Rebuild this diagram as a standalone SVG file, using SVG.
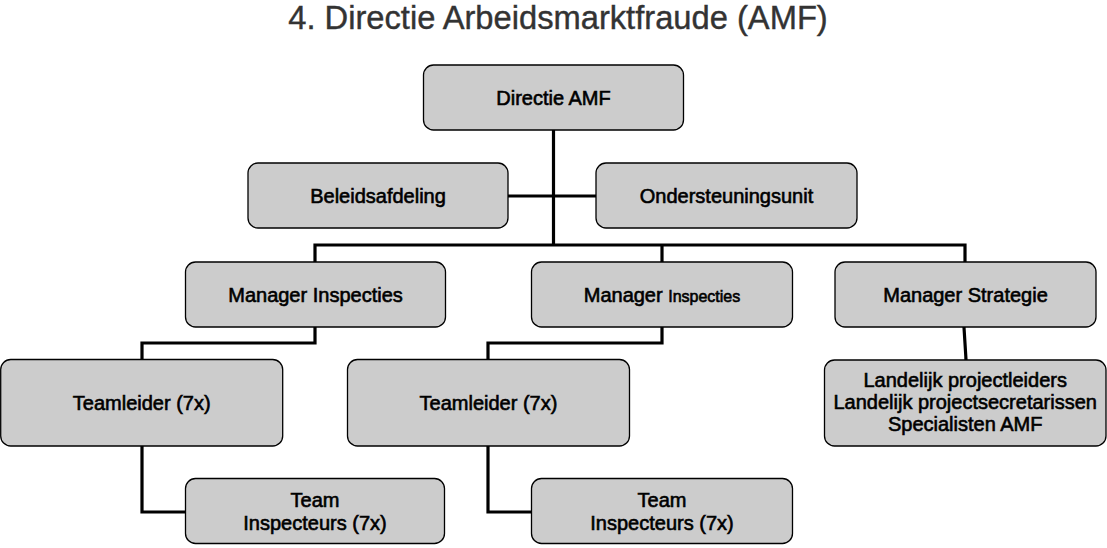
<svg xmlns="http://www.w3.org/2000/svg" width="1107" height="548" viewBox="0 0 1107 548">
<style>
.box{fill:#cccccc;stroke:#000;stroke-width:1.3}
.t{font-family:"Liberation Sans",Arial,sans-serif;font-size:20px;fill:#000;stroke:#000;stroke-width:0.6;text-anchor:middle}
.title{font-family:"Liberation Sans",Arial,sans-serif;font-size:32.7px;fill:#333;stroke:#333;stroke-width:0.4;text-anchor:middle}
.c{fill:none;stroke:#000;stroke-width:3.2}
</style>
<rect width="1107" height="548" fill="#fff"/>
<text class="title" x="558" y="29">4. Directie Arbeidsmarktfraude (AMF)</text>
<g id="connectors">
<path class="c" d="M553.5,130 V245"/>
<path class="c" d="M508,196 H596"/>
<path class="c" d="M315,262 V245 H965 V262"/>
<path class="c" d="M662,245 V262"/>
<path class="c" d="M315,327 V343 H142 V360"/>
<path class="c" d="M662,327 V343 H488 V360"/>
<path class="c" d="M142,446 V512 H185"/>
<path class="c" d="M488,446 V512 H531"/>
<path class="c" d="M964,327 L966,360"/>
</g>
<g id="directie">
<rect class="box" x="423.5" y="65" width="260" height="65" rx="10"/>
<text class="t" x="553.5" y="104.5">Directie AMF</text>
</g>
<g id="beleid">
<rect class="box" x="248" y="163" width="260" height="65" rx="10"/>
<text class="t" x="378" y="202.5">Beleidsafdeling</text>
</g>
<g id="ondersteuning">
<rect class="box" x="596" y="163" width="261" height="65" rx="10"/>
<text class="t" x="726.5" y="202.5">Ondersteuningsunit</text>
</g>
<g id="manager1">
<rect class="box" x="185.5" y="262" width="260" height="65" rx="10"/>
<text class="t" x="315.5" y="301.5">Manager Inspecties</text>
</g>
<g id="manager2">
<rect class="box" x="531.5" y="262" width="261" height="65" rx="10"/>
<text class="t" x="662" y="301.5">Manager <tspan font-size="16">Inspecties</tspan></text>
</g>
<g id="strategie">
<rect class="box" x="835" y="262" width="261" height="65" rx="10"/>
<text class="t" x="965.5" y="301.5">Manager Strategie</text>
</g>
<g id="teamleider1">
<rect class="box" x="0.7" y="359.5" width="282" height="86.5" rx="10"/>
<text class="t" x="141.7" y="410">Teamleider (7x)</text>
</g>
<g id="teamleider2">
<rect class="box" x="347.5" y="359.5" width="282" height="86.5" rx="10"/>
<text class="t" x="488.5" y="410">Teamleider (7x)</text>
</g>
<g id="landelijk">
<rect class="box" x="824.5" y="360" width="281.5" height="86" rx="10"/>
<text class="t" x="965.2" y="387">Landelijk projectleiders</text>
<text class="t" x="965.2" y="409">Landelijk projectsecretarissen</text>
<text class="t" x="965.2" y="431">Specialisten AMF</text>
</g>
<g id="team1">
<rect class="box" x="185.5" y="478.5" width="259" height="65" rx="10"/>
<text class="t" x="315" y="507">Team</text>
<text class="t" x="315" y="530">Inspecteurs (7x)</text>
</g>
<g id="team2">
<rect class="box" x="531.5" y="478.5" width="261" height="65" rx="10"/>
<text class="t" x="662" y="507">Team</text>
<text class="t" x="662" y="530">Inspecteurs (7x)</text>
</g>
</svg>
